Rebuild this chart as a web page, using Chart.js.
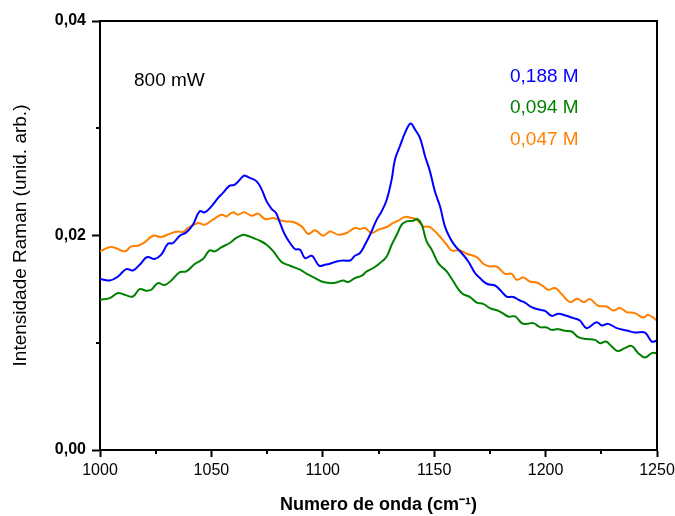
<!DOCTYPE html>
<html>
<head>
<meta charset="utf-8">
<script src="https://cdn.jsdelivr.net/npm/chart.js@4"></script>
<style>
  html, body { margin: 0; padding: 0; background: #fff; }
</style>
</head>
<body>
<canvas id="espectro" width="675" height="516"></canvas>
<script>
// dados (número de onda em cm-1, intensidade em unid. arb.)
const rotulos = ['0,188 M', '0,094 M', '0,047 M'];
const cores = ['#0000ff', '#008000', '#ff8000'];
const potencia = '800 mW';

const xAzul = [1000,1004.4,1008.1,1011.8,1014.8,1017.8,1021.2,1024.5,1027.5,1030.5,1032.8,1035.8,1038.7,1041.7,1044.7,1047,1050,1053,1055.2,1058.2,1060.5,1064.2,1065.1,1067.3,1070.3,1072.6,1074.8,1077.1,1079,1080.8,1083,1085.3,1087.5,1089.8,1092,1095,1096.5,1098.4,1101,1103.2,1106.2,1109.2,1112.2,1114.4,1116.7,1118.9,1121.2,1124.2,1126.4,1128.7,1130.9,1132.4,1134.6,1136.9,1139.4,1141.4,1143.6,1145.9,1148.1,1150.3,1152.6,1154.8,1157.1,1159.3,1162.3,1165.3,1168.3,1170.5,1173.6,1177.3,1179.5,1182.5,1185.5,1188.5,1190.7,1193.7,1197.5,1199.7,1202.7,1205.7,1209.4,1212.4,1215.4,1218.4,1222.9,1225.2,1228.1,1231.9,1236.4,1240.1,1244.6,1247.6,1250];
const yAzul = [0.01594,0.01581,0.01618,0.01687,0.01674,0.01727,0.01799,0.01781,0.01821,0.01923,0.01930,0.01998,0.02029,0.02101,0.02225,0.02216,0.02272,0.02350,0.02397,0.02465,0.02474,0.02552,0.02558,0.02537,0.02505,0.02428,0.02318,0.02247,0.02210,0.02117,0.02007,0.01930,0.01874,0.01867,0.01790,0.01811,0.01774,0.01718,0.01727,0.01737,0.01758,0.01767,0.01767,0.01811,0.01837,0.01914,0.02007,0.02148,0.02225,0.02334,0.02521,0.02708,0.02832,0.02957,0.03044,0.02988,0.02910,0.02739,0.02598,0.02412,0.02272,0.02085,0.01977,0.01905,0.01837,0.01758,0.01650,0.01603,0.01550,0.01534,0.01494,0.01431,0.01426,0.01394,0.01375,0.01332,0.01307,0.01298,0.01251,0.01270,0.01251,0.01230,0.01207,0.01136,0.01192,0.01161,0.01176,0.01136,0.01114,0.01095,0.01095,0.01011,0.01021];

const xVerde = [1000,1004.4,1008.1,1011.1,1014.8,1017.8,1020.8,1023,1026,1029,1032,1035.8,1038.7,1042.5,1046.2,1049.2,1051.5,1054.4,1058.2,1061.2,1064.2,1065.1,1068.8,1071.8,1074.8,1077.8,1081.5,1085.3,1089.8,1092.8,1096.5,1099.5,1103.2,1106.2,1109.2,1111.4,1114.4,1117.5,1119.7,1122.7,1125.7,1128.7,1130.9,1133.2,1135.4,1137.6,1140.6,1142.4,1144.4,1146.6,1148.9,1151.8,1155.6,1158.6,1162.3,1166.1,1169.1,1172,1175,1179.5,1183.2,1186.3,1189.3,1191.5,1194.5,1197.5,1200.5,1202.7,1205.7,1208.7,1211.7,1214.7,1218.4,1222.2,1224.4,1227.1,1229.7,1232.2,1235.6,1238.6,1241.6,1244.6,1247.6,1250];
const yVerde = [0.01401,0.01416,0.01463,0.01447,0.01431,0.01500,0.01485,0.01494,0.01556,0.01538,0.01581,0.01659,0.01665,0.01734,0.01781,0.01861,0.01852,0.01889,0.01930,0.01977,0.02007,0.02005,0.01977,0.01951,0.01914,0.01852,0.01753,0.01718,0.01681,0.01643,0.01603,0.01571,0.01556,0.01562,0.01581,0.01566,0.01603,0.01625,0.01665,0.01697,0.01743,0.01805,0.01914,0.02007,0.02101,0.02132,0.02138,0.02154,0.02101,0.01945,0.01867,0.01743,0.01665,0.01571,0.01463,0.01426,0.01375,0.01363,0.01323,0.01291,0.01245,0.01245,0.01183,0.01176,0.01183,0.01146,0.01142,0.01120,0.01127,0.01111,0.01105,0.01052,0.01034,0.01027,0.00996,0.01011,0.00965,0.00924,0.00950,0.00971,0.00903,0.00862,0.00903,0.00903];

const xLaranja = [1000,1005.1,1011.1,1014,1017,1020,1023.8,1027.5,1031.3,1035,1037.2,1039.5,1044,1047,1050.7,1054.5,1056.7,1059.7,1061.9,1064.2,1065.1,1068.1,1071,1074,1077.8,1080,1083,1086.8,1090.5,1093.5,1096.5,1100.2,1103.2,1107,1110.7,1114.4,1116.7,1118.9,1121.9,1124.9,1128.7,1131.6,1133.9,1136.9,1139.9,1142.1,1145.1,1148.1,1151.8,1155.6,1157.8,1161.6,1164.6,1169.1,1172,1175,1178,1181.8,1184.8,1187,1190,1193,1196,1199,1201.2,1204.2,1207.2,1210.9,1214.2,1217.2,1219.9,1223.6,1227.4,1230.3,1233.4,1236.4,1240.1,1243.8,1246.1,1250];
const yLaranja = [0.01852,0.01893,0.01852,0.01898,0.01905,0.01936,0.01998,0.01986,0.02017,0.02038,0.02032,0.02070,0.02117,0.02101,0.02148,0.02194,0.02178,0.02216,0.02194,0.02216,0.02216,0.02185,0.02204,0.02154,0.02163,0.02148,0.02132,0.02126,0.02085,0.02014,0.02048,0.01998,0.02038,0.02007,0.02023,0.02070,0.02061,0.02070,0.02023,0.02054,0.02079,0.02117,0.02138,0.02173,0.02163,0.02148,0.02085,0.02079,0.02007,0.01914,0.01861,0.01861,0.01830,0.01799,0.01737,0.01711,0.01711,0.01643,0.01643,0.01587,0.01609,0.01571,0.01562,0.01525,0.01494,0.01510,0.01454,0.01379,0.01410,0.01379,0.01407,0.01345,0.01338,0.01301,0.01323,0.01286,0.01276,0.01235,0.01260,0.01207];

// marcas secundárias dos eixos
const menoresX = [1025, 1075, 1125, 1175, 1225];
const menoresY = [0.01, 0.03];

const fonte = '"Liberation Sans", Arial, sans-serif';

function pontos(xs, ys) {
  return xs.map((x, i) => ({ x: x, y: ys[i] }));
}

const series = [pontos(xAzul, yAzul), pontos(xVerde, yVerde), pontos(xLaranja, yLaranja)];

// moldura, marcas menores e textos dentro do gráfico
const extras = {
  id: 'extras',
  afterDraw(chart) {
    const ctx = chart.ctx;
    const area = chart.chartArea;
    const sx = chart.scales.x;
    const sy = chart.scales.y;
    ctx.save();
    ctx.strokeStyle = '#000';
    ctx.lineWidth = 2;
    ctx.beginPath();
    ctx.moveTo(area.left, area.top);
    ctx.lineTo(area.right, area.top);
    ctx.lineTo(area.right, area.bottom);
    menoresX.forEach(v => {
      const px = Math.round(sx.getPixelForValue(v));
      ctx.moveTo(px, area.bottom);
      ctx.lineTo(px, area.bottom + 4);
    });
    menoresY.forEach(v => {
      const py = Math.round(sy.getPixelForValue(v));
      ctx.moveTo(area.left, py);
      ctx.lineTo(area.left - 4, py);
    });
    ctx.stroke();

    ctx.font = '19px ' + fonte;
    ctx.textBaseline = 'alphabetic';
    ctx.textAlign = 'left';
    ctx.fillStyle = '#000';
    ctx.fillText(potencia, 134, 86);
    const linhas = [82, 113, 145];
    rotulos.forEach((r, i) => {
      ctx.fillStyle = cores[i];
      ctx.fillText(r, 510, linhas[i]);
    });
    ctx.restore();
  }
};

const contexto = document.getElementById('espectro').getContext('2d');

new Chart(contexto, {
  type: 'line',
  data: {
    datasets: series.map((dados, i) => ({
      label: rotulos[i],
      data: dados,
      borderColor: cores[i],
      backgroundColor: cores[i],
      borderWidth: 2,
      pointRadius: 0,
      tension: 0.4,
      fill: false
    }))
  },
  options: {
    responsive: false,
    animation: false,
    layout: { padding: { top: 21, right: 18, bottom: 0, left: 0 } },
    plugins: {
      legend: { display: false },
      tooltip: { enabled: false }
    },
    scales: {
      x: {
        type: 'linear',
        min: 1000,
        max: 1250,
        afterFit: s => { s.height = 66; s.paddingRight = 18; },
        ticks: {
          stepSize: 50,
          color: '#000',
          padding: 4,
          font: { family: fonte, size: 16 },
          callback: v => String(v)
        },
        grid: { drawOnChartArea: false, tickLength: 7, tickWidth: 2, tickColor: '#000' },
        border: { color: '#000', width: 2 },
        title: {
          display: true,
          text: 'Numero de onda (cm⁻¹)',
          color: '#000',
          padding: { top: 0, bottom: 0 },
          font: { family: fonte, size: 18, weight: 'bold' }
        }
      },
      y: {
        min: 0,
        max: 0.04,
        afterFit: s => { s.width = 100; },
        ticks: {
          stepSize: 0.02,
          color: '#000',
          padding: 6,
          font: { family: fonte, size: 16, weight: 'bold' },
          callback: v => v.toFixed(2).replace('.', ',')
        },
        grid: { drawOnChartArea: false, tickLength: 8, tickWidth: 2, tickColor: '#000' },
        border: { color: '#000', width: 2 },
        title: {
          display: true,
          text: 'Intensidade Raman (unid. arb.)',
          color: '#000',
          padding: { top: 9, bottom: 0 },
          font: { family: fonte, size: 19 }
        }
      }
    }
  },
  plugins: [extras]
});
</script>
</body>
</html>
